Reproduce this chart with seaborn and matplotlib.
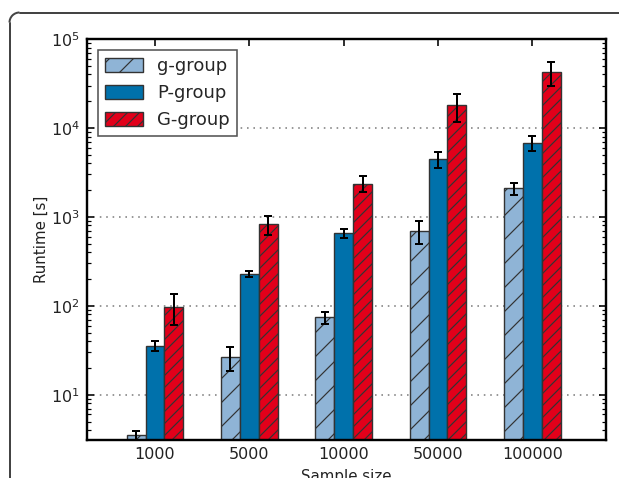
import pandas as pd
import numpy as np
import matplotlib
matplotlib.use("Agg")
import matplotlib.pyplot as plt
import seaborn as sns
from matplotlib.lines import Line2D
from matplotlib.patches import Arc
from matplotlib.transforms import IdentityTransform

# Runtime data (mean and error per group)
sample_sizes = ["1000", "5000", "10000", "50000", "100000"]
groups = ["g-group", "P-group", "G-group"]
g_mean = [3.5, 26.5, 74, 700, 2100]
g_err = [0.45, 8, 11, 210, 330]
p_mean = [35.5, 229, 657, 4450, 6840]
p_err = [4.5, 16, 75, 900, 1270]
G_mean = [98, 830, 2370, 18000, 42300]
G_err = [37, 200, 480, 6200, 13000]

colors = ["#8fb4d6", "#0071ab", "#e2001a"]
hatches = ["//", "", "////"]

means = [g_mean, p_mean, G_mean]
errs = [g_err, p_err, G_err]

df = pd.DataFrame({
    "size": sample_sizes * 3,
    "group": np.repeat(groups, len(sample_sizes)),
    "runtime": np.concatenate(means),
})

sns.set_style("ticks")
plt.rcParams["font.family"] = ["DejaVu Sans"]
plt.rcParams["hatch.linewidth"] = 0.6
plt.rcParams["xtick.direction"] = "in"
plt.rcParams["ytick.direction"] = "in"
plt.rcParams["xtick.top"] = True
plt.rcParams["ytick.right"] = True

dpi = 144
fig = plt.figure(figsize=(619 / dpi, 478 / dpi), dpi=dpi)
ax = fig.add_axes([87 / 619, 1 - 440 / 478, 519 / 619, 401 / 478])

sns.barplot(data=df, x="size", y="runtime", hue="group", order=sample_sizes,
            hue_order=groups, palette=colors, saturation=1, width=0.6, gap=0,
            errorbar=None, edgecolor="#333333", linewidth=0.7,
            legend=False, ax=ax)

for cont, h, m, e in zip(ax.containers, hatches, means, errs):
    xs = []
    for p in cont.patches:
        p.set_hatch(h)
        xs.append(p.get_x() + p.get_width() / 2)
    ax.errorbar(xs, m, yerr=e, fmt="none", ecolor="black", elinewidth=1,
                capsize=2.2, capthick=1, zorder=5)

ax.set_yscale("log")
ax.set_ylim(3.1, 1e5)
ax.set_xlim(-0.72, 4.78)
ax.yaxis.grid(True, which="major", linestyle=(0, (1, 3)), color="gray", linewidth=0.8)
ax.set_axisbelow(True)

ax.tick_params(which="major", labelsize=8, length=3.5, width=0.8, top=True, right=True,
               colors="black", labelcolor="#222222")
ax.tick_params(which="minor", length=2, width=0.6, right=True, colors="black")
ax.tick_params(axis="x", which="minor", bottom=False, top=False)
for s in ax.spines.values():
    s.set_linewidth(1.2)
    s.set_color("black")

ax.set_xlabel("Sample size", fontsize=7.5, labelpad=3.5, color="#222222")
ax.set_ylabel("Runtime [s]", fontsize=7.5, labelpad=1, color="#222222")

leg = ax.legend(handles=ax.containers, labels=groups, loc="upper left",
                fontsize=9, fancybox=False, edgecolor="#555555", framealpha=1,
                handlelength=2.1, handleheight=0.8, labelspacing=0.5,
                handletextpad=0.8, borderaxespad=0.6)
leg.get_frame().set_linewidth(0.8)

# frame around the figure (rounded top-left corner), in pixels
x0, ytop, r = 9.5, 478 - 12.5, 10
frame_kw = dict(transform=IdentityTransform(), color="#444444", linewidth=1.0)
fig.add_artist(Line2D([x0, x0], [0, ytop - r], **frame_kw))
fig.add_artist(Line2D([x0 + r, 619], [ytop, ytop], **frame_kw))
fig.add_artist(Arc((x0 + r, ytop - r), 2 * r, 2 * r, theta1=90, theta2=180,
                   transform=IdentityTransform(), color="#444444", linewidth=1.0))

fig.savefig("out.png", dpi=dpi)
